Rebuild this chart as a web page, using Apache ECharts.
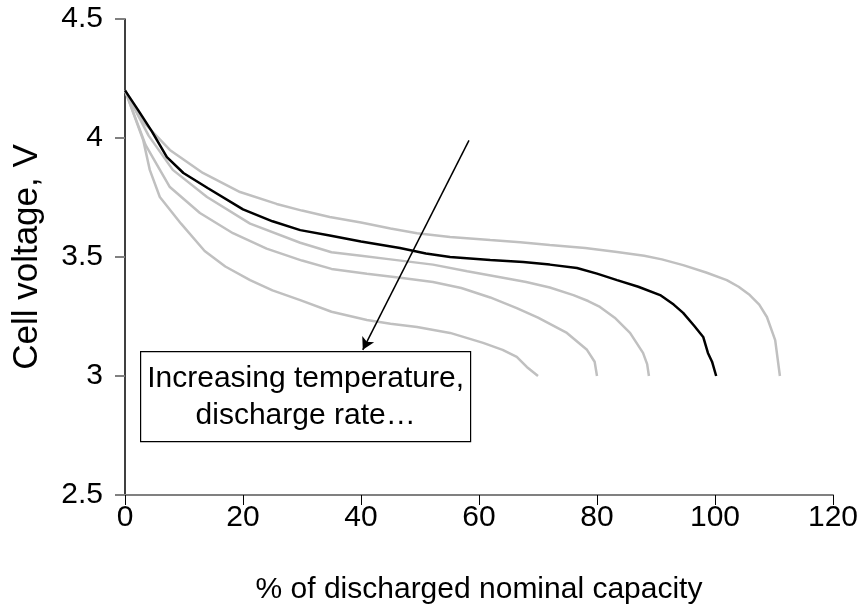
<!DOCTYPE html>
<html><head><meta charset="utf-8">
<script src="https://cdn.jsdelivr.net/npm/echarts@6/dist/echarts.min.js"></script>
<style>html,body{margin:0;padding:0;background:#fff}#c{width:863px;height:616px}</style>
</head><body><div id="c"></div>
<script>
// Discharge curves (x = % discharged nominal capacity, y = cell voltage V)
var curve111 = [[0,4.2],[3,4.07],[7.6,3.95],[13.2,3.853],[19.5,3.773],[25.7,3.723],[30,3.695],[34.7,3.668],[40,3.645],[45,3.62],[49.5,3.60],[55.1,3.584],[61.9,3.571],[67,3.562],[72,3.55],[78,3.538],[83.4,3.521],[88,3.505],[91,3.49],[94.6,3.466],[98.5,3.435],[102,3.403],[104,3.375],[105.9,3.34],[107.5,3.30],[108.8,3.248],[110.2,3.151],[111,3.0]];
var curve100 = [[0,4.2],[2.2,4.118],[4.5,4.03],[7.1,3.92],[9.9,3.853],[14,3.79],[20,3.70],[25,3.65],[29.7,3.613],[34.7,3.59],[40,3.565],[46.6,3.538],[51,3.515],[55.1,3.50],[61.9,3.487],[67.5,3.479],[72,3.468],[76.6,3.454],[80,3.43],[83.4,3.403],[87,3.375],[90.7,3.34],[93,3.30],[94.6,3.265],[96.5,3.21],[98,3.164],[98.8,3.097],[99.5,3.06],[100.2,3.0]];
var curve89 = [[0,4.2],[4,4.01],[8.1,3.866],[13.9,3.752],[21.2,3.64],[29.7,3.56],[35,3.52],[40,3.505],[45,3.49],[52.2,3.468],[58,3.44],[63.6,3.415],[68,3.395],[72,3.372],[76,3.34],[78.5,3.315],[80.5,3.29],[83,3.245],[85.6,3.181],[87.8,3.097],[88.5,3.05],[88.8,3.0]];
var curve80 = [[0,4.2],[3.5,3.97],[7.6,3.794],[12.7,3.685],[18.3,3.60],[24,3.535],[30,3.485],[35,3.45],[41,3.43],[47,3.412],[52.2,3.395],[57,3.37],[61.9,3.33],[66.4,3.285],[70,3.245],[74.9,3.181],[78.3,3.11],[79.6,3.06],[80,3.0]];
var curve70 = [[0,4.2],[3.1,3.99],[4.2,3.866],[5.9,3.752],[9.5,3.64],[13.5,3.525],[17,3.46],[21.2,3.403],[25,3.36],[29.7,3.319],[35,3.27],[41,3.235],[45,3.22],[49.5,3.206],[55.1,3.181],[60.7,3.139],[64,3.11],[66.4,3.08],[68.1,3.038],[70,3.0]];
var xTicks = [0,20,40,60,80,100,120];
var yTicks = [2.5,3,3.5,4,4.5];
var arrowFrom = [58.3, 3.99];
var arrowTo = [40.3, 3.11];
var noteText = 'Increasing temperature,\ndischarge rate…';

var FONT = '"Liberation Sans", Arial, sans-serif';
var chart = echarts.init(document.getElementById('c'), null, {renderer:'canvas'});
function grey(d){return {type:'line',data:d,showSymbol:false,symbol:'none',smooth:false,lineStyle:{color:'#c0c0c0',width:2.5},z:2,silent:true};}
var series = [grey(curve111), grey(curve89), grey(curve80), grey(curve70),
  {type:'line',data:curve100,showSymbol:false,symbol:'none',smooth:false,lineStyle:{color:'#000',width:2.5},z:3,silent:true},
  {type:'line',data:[],markLine:{silent:true,symbol:['none','arrow'],symbolSize:[10,12],
    lineStyle:{color:'#000',width:1.5,type:'solid'},label:{show:false},
    data:[[{coord:arrowFrom},{coord:arrowTo}]]}}
];
chart.setOption({
  animation:false,
  grid:{left:125,right:30,top:19,bottom:121,containLabel:false,outerBoundsMode:'none'},
  xAxis:{type:'value',min:0,max:120,interval:20,
    axisLine:{lineStyle:{color:'#808080',width:2}},
    axisTick:{length:10,lineStyle:{color:'#000'}},
    splitLine:{show:false},
    axisLabel:{color:'#000',fontSize:30,fontFamily:FONT,margin:8},
    name:'% of discharged nominal capacity',nameLocation:'middle',nameGap:80,
    nameTextStyle:{color:'#000',fontSize:30,fontFamily:FONT}},
  yAxis:{type:'value',min:2.5,max:4.5,interval:0.5,
    axisLine:{show:true,lineStyle:{color:'#000',width:1.5}},
    axisTick:{show:true,length:10,lineStyle:{color:'#808080',width:2}},
    splitLine:{show:false},
    axisLabel:{color:'#000',fontSize:30,fontFamily:FONT,margin:22},
    name:'Cell voltage, V',nameLocation:'middle',nameGap:80,
    nameTextStyle:{color:'#000',fontSize:35,fontFamily:FONT}},
  series:series,
  graphic:[{type:'group',left:140,top:351,children:[
    {type:'rect',shape:{x:0,y:0,width:330,height:90},style:{fill:'#fff',stroke:'#000',lineWidth:1.2}},
    {type:'text',x:165,y:46,style:{text:noteText,fill:'#000',font:'30px '+FONT,textAlign:'center',textVerticalAlign:'middle',lineHeight:37}}
  ]}]
});
</script></body></html>
